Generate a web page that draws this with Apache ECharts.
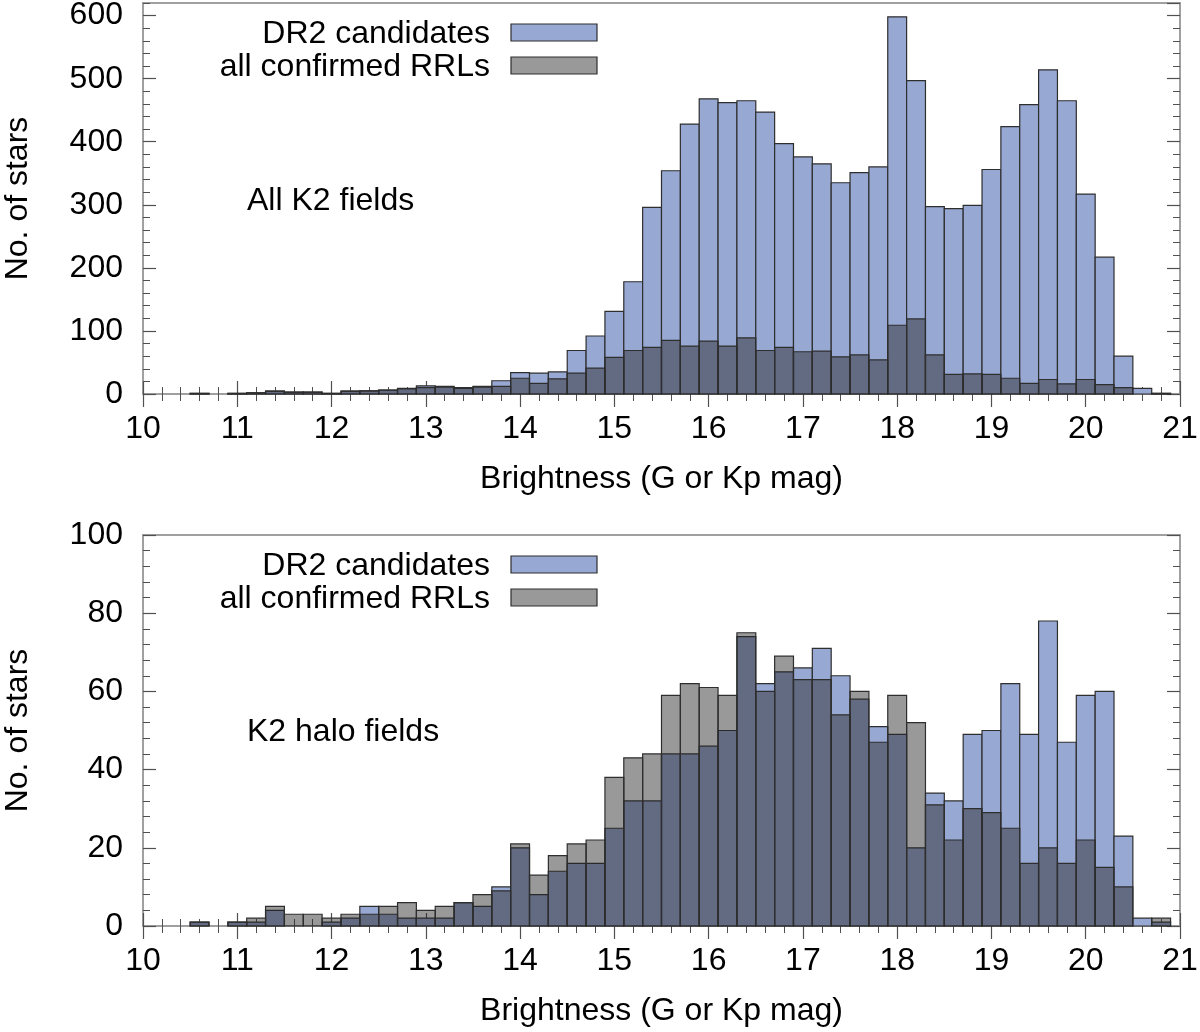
<!DOCTYPE html>
<html>
<head>
<meta charset="utf-8">
<script src="https://cdn.jsdelivr.net/npm/echarts@6/dist/echarts.min.js"></script>
<style>
  html, body { margin: 0; padding: 0; background: #fff; }
  #chart { width: 1200px; height: 1032px; }
</style>
</head>
<body>
<div id="chart"></div>
<script>
"use strict";
// bin centres (mag), bins are 0.2 mag wide
const binCenters = [10.6, 10.8, 11.0, 11.2, 11.4, 11.6, 11.8, 12.0, 12.2, 12.4,
    12.6, 12.8, 13.0, 13.2, 13.4, 13.6, 13.8, 14.0, 14.2, 14.4,
    14.6, 14.8, 15.0, 15.2, 15.4, 15.6, 15.8, 16.0, 16.2, 16.4,
    16.6, 16.8, 17.0, 17.2, 17.4, 17.6, 17.8, 18.0, 18.2, 18.4,
    18.6, 18.8, 19.0, 19.2, 19.4, 19.6, 19.8, 20.0, 20.2, 20.4,
    20.6, 20.8];
// all K2 fields
const allDr2 = [1, 0, 1, 2, 5, 3, 3, 1, 5, 5,
    6, 9, 13, 12, 10, 12, 21, 34, 33, 35,
    69, 92, 131, 178, 296, 354, 428, 468, 462, 465,
    447, 397, 376, 365, 335, 351, 360, 598, 497, 297,
    294, 299, 356, 424, 459, 514, 465, 317, 217, 60,
    9, 1];
const allRrl = [1, 0, 1, 2, 4, 3, 3, 1, 4, 5,
    6, 8, 10, 11, 9, 11, 12, 25, 17, 24,
    33, 41, 58, 69, 74, 85, 76, 84, 76, 89,
    69, 74, 67, 68, 59, 62, 54, 109, 119, 62,
    31, 32, 31, 25, 17, 23, 16, 23, 15, 10,
    0, 1];
// K2 halo fields
const haloDr2 = [1, 0, 1, 1, 4, 0, 0, 1, 2, 5,
    3, 2, 2, 2, 6, 5, 10, 20, 8, 14,
    16, 16, 25, 32, 32, 44, 44, 46, 50, 74,
    62, 65, 66, 71, 64, 58, 51, 49, 20, 34,
    32, 49, 50, 62, 49, 78, 47, 59, 60, 23,
    2, 1];
const haloRrl = [1, 0, 1, 2, 5, 3, 3, 2, 3, 3,
    5, 6, 4, 5, 6, 8, 9, 21, 13, 18,
    21, 22, 38, 43, 44, 59, 62, 61, 59, 75,
    60, 69, 63, 63, 54, 60, 47, 59, 52, 31,
    22, 30, 29, 25, 16, 20, 16, 22, 15, 10,
    0, 2];
const seriesNames = ['DR2 candidates', 'all confirmed RRLs'];
const panelNames = ['All K2 fields', 'K2 halo fields'];

const binHalf = 0.1;
const font = "'Liberation Sans', Arial, sans-serif";
const blue = '#97a8d3';
const greyOver = 'rgba(38,38,38,0.47)';
const greyLegend = '#999999';
const edge = '#2e2e2e';
const tickColor = '#505050';
const frameColor = '#a0a0a0';

const container = document.getElementById('chart');
const myChart = echarts.init(container);

function toPairs(values) {
    return values.map((v, i) => [binCenters[i], v]);
}
function histRect(fill) {
    return function (params, api) {
        const x = api.value(0), y = api.value(1);
        if (!y) {
            return null;
        }
        const a = api.coord([x - binHalf, y]);
        const b = api.coord([x + binHalf, 0]);
        return {
            type: 'rect',
            shape: { x: a[0], y: a[1], width: b[0] - a[0], height: b[1] - a[1] },
            style: { fill: fill, stroke: edge, lineWidth: 1.2 }
        };
    };
}
function xAxes(g) {
    const base = { gridIndex: g, type: 'value', min: 10, max: 21, axisLine: { show: false }, splitLine: { show: false } };
    return [
        Object.assign({}, base, {
            position: 'bottom', interval: 1,
            axisTick: { inside: true, length: 13, lineStyle: { color: tickColor, width: 1.2 } },
            axisLabel: { margin: 19, fontSize: 32, color: '#000', fontFamily: font },
            name: 'Brightness (G or Kp mag)', nameLocation: 'middle', nameGap: 69,
            nameTextStyle: { fontSize: 32, color: '#000', fontFamily: font }
        }),
        Object.assign({}, base, {
            position: 'bottom', interval: 0.2,
            axisTick: { inside: true, length: 7, lineStyle: { color: tickColor } },
            axisLabel: { show: false }
        }),
        Object.assign({}, base, {
            position: 'top', interval: 1,
            axisTick: { inside: true, length: 13, lineStyle: { color: tickColor, width: 1.2 } },
            axisLabel: { show: false }
        }),
        Object.assign({}, base, {
            position: 'top', interval: 0.2,
            axisTick: { inside: true, length: 7, lineStyle: { color: tickColor } },
            axisLabel: { show: false }
        })
    ];
}
function yAxes(g, max, major, minor) {
    const base = { gridIndex: g, type: 'value', min: 0, max: max, axisLine: { show: false }, splitLine: { show: false } };
    return [
        Object.assign({}, base, {
            position: 'left', interval: major,
            axisTick: { inside: true, length: 13, lineStyle: { color: tickColor, width: 1.2 } },
            axisLabel: { margin: 20, fontSize: 32, color: '#000', fontFamily: font, showMaxLabel: max % major === 0 },
            name: 'No. of stars', nameLocation: 'middle', nameRotate: 90, nameGap: 109,
            nameTextStyle: { fontSize: 32, color: '#000', fontFamily: font }
        }),
        Object.assign({}, base, {
            position: 'left', interval: minor,
            axisTick: { inside: true, length: 7, lineStyle: { color: tickColor } },
            axisLabel: { show: false }
        }),
        Object.assign({}, base, {
            position: 'right', interval: major,
            axisTick: { inside: true, length: 13, lineStyle: { color: tickColor, width: 1.2 } },
            axisLabel: { show: false }
        }),
        Object.assign({}, base, {
            position: 'right', interval: minor,
            axisTick: { inside: true, length: 7, lineStyle: { color: tickColor } },
            axisLabel: { show: false }
        })
    ];
}
function panelGraphics(top) {
    const txt = (text, x, y, align) => ({
        type: 'text', x: x, y: y,
        style: { text: text, x: 0, y: 0, fill: '#000', font: '32px ' + font, textAlign: align, textVerticalAlign: 'middle' }
    });
    return [
        txt(seriesNames[0], 490, top + 32, 'right'),
        { type: 'rect', shape: { x: 511, y: top + 22, width: 86, height: 17 }, style: { fill: blue, stroke: edge, lineWidth: 1.2 } },
        txt(seriesNames[1], 490, top + 65, 'right'),
        { type: 'rect', shape: { x: 511, y: top + 55, width: 86, height: 17 }, style: { fill: greyLegend, stroke: edge, lineWidth: 1.2 } }
    ];
}

const grids = [
    { left: 143, right: 20, top: 3, height: 391 },
    { left: 143, right: 20, top: 535, height: 391 }
];
grids.forEach(g => Object.assign(g, {
    show: true, borderColor: frameColor, borderWidth: 2,
    containLabel: false, outerBoundsMode: 'none'
}));

const panels = [[allDr2, allRrl], [haloDr2, haloRrl]];
const series = [];
panels.forEach((p, g) => {
    series.push({
        name: seriesNames[0], type: 'custom', xAxisIndex: g * 4, yAxisIndex: g * 4,
        renderItem: histRect(blue), encode: { x: 0, y: 1 }, data: toPairs(p[0]), z: 2, silent: true
    });
    series.push({
        name: seriesNames[1], type: 'custom', xAxisIndex: g * 4, yAxisIndex: g * 4,
        renderItem: histRect(greyOver), encode: { x: 0, y: 1 }, data: toPairs(p[1]), z: 3, silent: true
    });
});

const graphics = panelGraphics(2).concat(panelGraphics(534));
graphics.push({ type: 'text', x: 247, y: 201, style: { text: panelNames[0], fill: '#000', font: '32px ' + font, textAlign: 'left', textVerticalAlign: 'middle' } });
graphics.push({ type: 'text', x: 247, y: 732, style: { text: panelNames[1], fill: '#000', font: '32px ' + font, textAlign: 'left', textVerticalAlign: 'middle' } });

const option = {
    animation: false,
    backgroundColor: '#fff',
    textStyle: { fontFamily: font },
    grid: grids,
    xAxis: xAxes(0).concat(xAxes(1)),
    yAxis: yAxes(0, 620, 100, 20).concat(yAxes(1, 100, 20, 4)),
    series: series,
    graphic: graphics
};
myChart.setOption(option);
</script>
</body>
</html>
